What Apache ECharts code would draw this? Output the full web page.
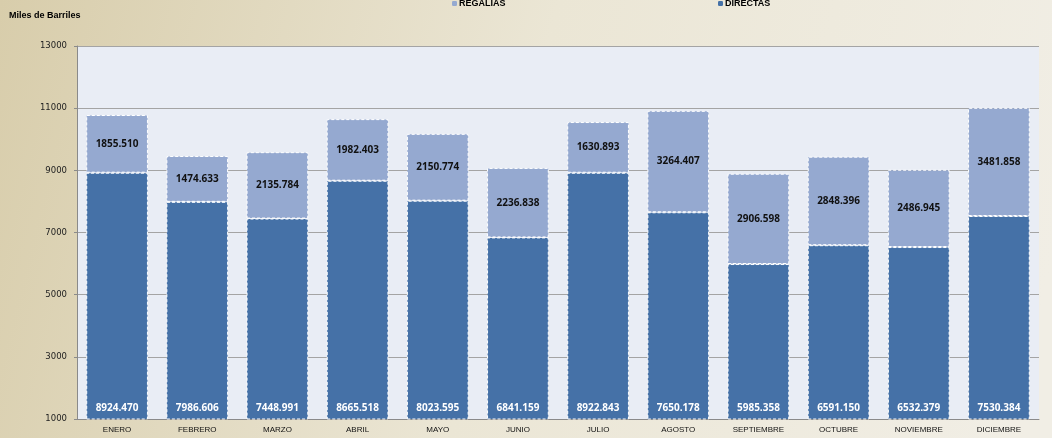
<!DOCTYPE html>
<html>
<head>
<meta charset="utf-8">
<script src="https://cdn.jsdelivr.net/npm/echarts@6/dist/echarts.min.js"></script>
<style>
  html, body { margin: 0; padding: 0; }
  #chart { width: 1052px; height: 438px; }
</style>
</head>
<body>
<div id="chart"></div>
<script>
// datos mensuales (miles de barriles)
var meses = ['ENERO', 'FEBRERO', 'MARZO', 'ABRIL', 'MAYO', 'JUNIO', 'JULIO', 'AGOSTO', 'SEPTIEMBRE', 'OCTUBRE', 'NOVIEMBRE', 'DICIEMBRE']
var directas = [8924.470, 7986.606, 7448.991, 8665.518, 8023.595, 6841.159, 8922.843, 7650.178, 5985.358, 6591.150, 6532.379, 7530.384]
var regalias = [1855.510, 1474.633, 2135.784, 1982.403, 2150.774, 2236.838, 1630.893, 3264.407, 2906.598, 2848.396, 2486.945, 3481.858]

var chart = echarts.init(document.getElementById('chart'))

var fmt = function (p) { return p.value.toFixed(3) }

var legendText = { fontFamily: 'Liberation Sans', fontSize: 9, fontWeight: 'bold', color: '#000', padding: [0, 0, 0, -3] }

chart.setOption({
  animation: false,
  backgroundColor: new echarts.graphic.LinearGradient(0, 0, 1, 0.6, [
    { offset: 0, color: '#d8cdab' },
    { offset: 0.5, color: '#ebe6d5' },
    { offset: 1, color: '#f1eee5' }
  ]),
  title: {
    text: 'Miles de Barriles',
    left: 4,
    top: 6,
    textStyle: { fontFamily: 'Liberation Sans', fontSize: 9, fontWeight: 'bold', color: '#000' }
  },
  legend: [
    {
      data: ['REGALIAS'],
      left: 447,
      top: -6,
      itemWidth: 5,
      itemHeight: 5,
      itemStyle: { borderWidth: 0 },
      textStyle: legendText
    },
    {
      data: ['DIRECTAS'],
      left: 713,
      top: -6,
      itemWidth: 5,
      itemHeight: 5,
      itemStyle: { borderWidth: 0 },
      textStyle: legendText
    }
  ],
  grid: {
    left: 77,
    right: 13,
    top: 46,
    bottom: 19,
    show: true,
    backgroundColor: '#e9edf5',
    borderWidth: 0
  },
  xAxis: {
    type: 'category',
    data: meses,
    axisLine: { lineStyle: { color: '#8a8a8a', width: 1 } },
    axisTick: { show: false },
    axisLabel: { fontFamily: 'Liberation Sans', fontSize: 8, color: '#111', margin: 7 }
  },
  yAxis: {
    type: 'value',
    min: 1000,
    max: 13000,
    interval: 2000,
    axisLine: { show: true, lineStyle: { color: '#8a8a8a' } },
    axisTick: { show: true, inside: false, length: 3, lineStyle: { color: '#8a8a8a' } },
    axisLabel: { fontFamily: 'DejaVu Sans', fontSize: 8.5, color: '#222', margin: 10, formatter: function (v) { return String(v) } },
    splitLine: { show: true, lineStyle: { color: '#a4a4a4', width: 1 } }
  },
  series: [
    {
      name: 'DIRECTAS',
      type: 'bar',
      stack: 'total',
      barWidth: '77%',
      data: directas,
      itemStyle: { color: '#4571a7', borderColor: '#ffffff', borderWidth: 1, borderType: [3, 2] },
      label: {
        show: true,
        position: 'insideBottom',
        distance: 6,
        formatter: fmt,
        fontFamily: 'Open Sans',
        fontSize: 10,
        fontWeight: 'bold',
        color: '#ffffff'
      }
    },
    {
      name: 'REGALIAS',
      type: 'bar',
      stack: 'total',
      barWidth: '77%',
      data: regalias,
      itemStyle: { color: '#95a9d0', borderColor: '#ffffff', borderWidth: 1, borderType: [3, 2] },
      label: {
        show: true,
        position: 'inside',
        formatter: fmt,
        fontFamily: 'Open Sans',
        fontSize: 10,
        fontWeight: 'bold',
        color: '#111111'
      }
    }
  ]
})
</script>
</body>
</html>
